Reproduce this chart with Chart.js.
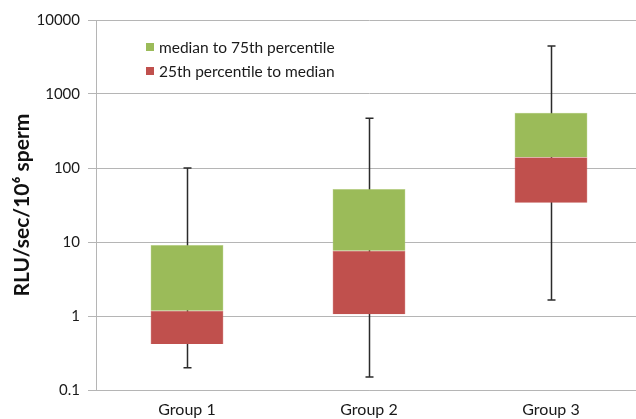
<!DOCTYPE html>
<html>
<head>
<meta charset="utf-8">
<script src="https://cdn.jsdelivr.net/npm/chart.js@4"></script>
<style>
  html, body { margin: 0; padding: 0; background: #fff; overflow: hidden; }
  #wrap { width: 642px; height: 419px; position: relative; }
</style>
</head>
<body>
<div id="wrap"><canvas id="boxChart"></canvas></div>
<script>
// values
const groups = ['Group 1', 'Group 2', 'Group 3'];
const minValues = [0.2, 0.15, 1.65];
const q1Values = [0.42, 1.06, 34];
const medianValues = [1.18, 7.6, 140];
const q3Values = [9.1, 52, 560];
const maxValues = [100, 470, 4450];
const yTickValues = [0.1, 1, 10, 100, 1000, 10000];
const yTickLabels = ['0.1', '1', '10', '100', '1000', '10000'];

const fontFamily = 'Lato, "Open Sans", sans-serif';

// whiskers behind the boxes
const whiskerPlugin = {
    id: 'whiskers',
    beforeDatasetsDraw(chart) {
        const ctx = chart.ctx;
        const xScale = chart.scales.x;
        const yScale = chart.scales.y;
        ctx.save();
        ctx.strokeStyle = '#2b2b2b';
        ctx.lineWidth = 1.5;
        groups.forEach(function (g, i) {
            const x = Math.round(xScale.getPixelForValue(i)) + 0.5;
            const yTop = yScale.getPixelForValue(maxValues[i]);
            const yBottom = yScale.getPixelForValue(minValues[i]);
            ctx.beginPath();
            ctx.moveTo(x, yTop);
            ctx.lineTo(x, yBottom);
            ctx.moveTo(x - 4, yTop);
            ctx.lineTo(x + 4, yTop);
            ctx.moveTo(x - 4, yBottom);
            ctx.lineTo(x + 4, yBottom);
            ctx.stroke();
        });
        ctx.restore();
    }
};

// legend drawn inside the plot, top left
const insideLegend = {
    id: 'insideLegend',
    afterDraw(chart) {
        const ctx = chart.ctx;
        const items = [chart.data.datasets[1], chart.data.datasets[0]];
        ctx.save();
        ctx.font = '15.5px ' + fontFamily;
        ctx.textBaseline = 'middle';
        items.forEach(function (ds, i) {
            const y = 47 + i * 24;
            ctx.fillStyle = ds.backgroundColor;
            ctx.fillRect(146, y - 4, 8, 8);
            ctx.fillStyle = '#1a1a1a';
            ctx.fillText(ds.label, 159, y + 1);
        });
        ctx.restore();
    }
};

const ctx = document.getElementById('boxChart').getContext('2d');
new Chart(ctx, {
    type: 'bar',
    data: {
        labels: groups,
        datasets: [{
            label: '25th percentile to median',
            data: groups.map((g, i) => [q1Values[i], medianValues[i]]),
            backgroundColor: '#C0504D',
            borderColor: '#D47370',
            borderWidth: 0.5,
            grouped: false,
            categoryPercentage: 1,
            barPercentage: 0.4
        }, {
            label: 'median to 75th percentile',
            data: groups.map((g, i) => [medianValues[i], q3Values[i]]),
            backgroundColor: '#9BBB59',
            borderColor: '#B3CD7E',
            borderWidth: 0.5,
            grouped: false,
            categoryPercentage: 1,
            barPercentage: 0.4
        }]
    },
    options: {
        responsive: true,
        maintainAspectRatio: false,
        animation: false,
        layout: { padding: { top: 20, right: 0, left: 0, bottom: 0 } },
        plugins: {
            legend: { display: false },
            tooltip: { enabled: false }
        },
        scales: {
            x: {
                grid: { display: false, drawTicks: false },
                border: { color: '#b5b5b5' },
                ticks: {
                    color: '#1a1a1a',
                    font: { family: fontFamily, size: 16 },
                    padding: 10
                },
                afterFit(scale) { scale.height = 29; }
            },
            y: {
                type: 'logarithmic',
                min: 0.1,
                max: 10000,
                grid: { color: '#b5b5b5', lineWidth: 1, tickLength: 8 },
                border: { color: '#b5b5b5' },
                afterBuildTicks(scale) {
                    scale.ticks = yTickValues.map(v => ({ value: v }));
                },
                ticks: {
                    color: '#1a1a1a',
                    font: { family: fontFamily, size: 15 },
                    padding: 8,
                    callback: function (value) {
                        const idx = yTickValues.indexOf(value);
                        return idx >= 0 ? yTickLabels[idx] : '';
                    }
                },
                title: {
                    display: true,
                    text: 'RLU/sec/10\u2076 sperm',
                    color: '#111',
                    font: { family: fontFamily, size: 21, weight: 'bold' },
                    padding: { top: 10, bottom: 0 }
                },
                afterFit(scale) { scale.width = 96; }
            }
        }
    },
    plugins: [whiskerPlugin, insideLegend]
});
</script>
</body>
</html>
